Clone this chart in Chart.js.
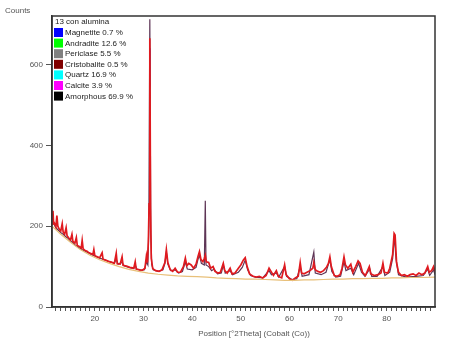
<!DOCTYPE html>
<html lang="en">
<head>
<meta charset="UTF-8">
<title>13 con alumina</title>
<script src="https://cdn.jsdelivr.net/npm/chart.js@4.4.1/dist/chart.umd.min.js"></script>
<style>body{margin:0;background:#fff}</style>
</head>
<body>
<canvas id="xrd" width="449" height="346"></canvas>

<!-- data -->
<script>
const obsX = [11.2,11.4,11.5,11.8,12.0,12.2,12.4,12.7,13.0,13.3,13.5,13.8,14.1,14.3,14.7,15.0,15.3,15.5,15.9,16.2,16.4,16.8,17.2,17.4,17.6,18.0,18.4,18.8,19.2,19.6,19.8,20.0,20.5,21.0,21.5,21.7,22.2,22.8,23.4,24.0,24.4,24.6,25.2,25.6,25.8,26.5,27.2,28.0,28.3,28.5,29.2,29.8,30.3,30.6,30.8,31.0,31.15,31.3,31.45,31.6,31.9,32.5,33.2,33.8,34.4,34.7,35.0,35.5,36.0,36.5,37.0,37.6,38.2,38.6,38.9,39.3,39.8,40.3,40.8,41.2,41.5,41.8,42.2,42.5,42.7,42.9,43.4,43.8,44.3,44.7,45.3,45.8,46.4,46.7,47.2,47.8,48.2,48.8,49.5,50.0,50.5,50.9,51.3,51.8,52.5,53.2,53.8,54.5,55.2,55.8,56.2,56.7,57.3,57.7,58.4,59.0,59.3,60.0,60.6,61.2,61.8,62.2,62.5,63.0,63.6,64.2,64.8,65.0,65.3,65.8,66.4,67.0,67.6,68.0,68.3,68.6,69.2,69.8,70.4,70.8,71.2,71.5,72.0,72.6,73.0,73.6,74.1,74.5,75.0,75.6,76.4,76.7,77.4,78.2,78.8,79.2,79.5,80.2,80.6,81.2,81.5,81.7,82.0,82.4,83.0,83.6,84.2,84.8,85.4,86.0,86.6,87.2,87.8,88.4,88.7,89.2,89.6,89.9];
const obsY = [205,238,212,205,198,226,200,192,188,206,185,180,196,176,170,166,180,162,158,172,152,150,146,165,144,140,138,134,132,130,142,127,124,122,134,118,116,113,111,108,133,107,106,124,103,101,98,96,112,94,92,91,96,126,110,160,255,665,245,120,95,90,88,92,110,142,110,92,88,96,86,86,100,121,102,108,104,96,106,125,137,118,112,120,128,112,110,96,100,88,84,86,108,90,84,96,82,84,96,104,116,122,100,82,76,74,76,72,78,96,88,78,90,76,72,104,80,70,66,72,76,110,84,82,86,90,96,110,92,88,86,90,98,108,124,100,78,76,80,96,124,104,96,106,86,100,114,108,86,78,100,82,78,80,84,108,86,84,96,130,182,178,110,86,78,80,76,80,82,78,84,80,84,100,86,90,100,88];

const calcX = [11.2,11.5,12.0,12.5,13.0,13.5,14.0,14.5,15.0,15.5,16.0,16.5,17.0,17.5,18.0,18.5,19.0,19.5,20.0,21.0,22.0,23.0,24.0,24.4,24.8,25.6,26.0,27.0,28.0,28.3,28.6,29.5,30.2,30.6,30.9,31.1,31.3,31.5,31.7,32.0,33.0,34.0,34.4,34.7,35.0,35.6,36.5,37.2,38.0,38.6,39.0,40.0,40.8,41.2,41.5,41.9,42.5,42.7,42.85,43.4,44.0,44.5,45.2,46.0,46.4,46.8,47.8,48.3,49.5,50.3,50.9,51.4,52.0,53.0,54.5,55.8,56.3,57.3,57.8,59.0,59.4,60.5,61.5,62.2,62.6,64.0,65.0,65.3,66.5,67.5,68.3,68.7,69.5,70.5,71.2,71.6,72.6,73.2,74.2,74.8,75.5,76.5,76.9,78.0,79.2,79.6,80.6,81.2,81.55,81.9,82.4,84.0,86.0,87.5,88.4,88.8,89.6,89.9];
const calcY = [203,208,196,190,184,180,174,170,164,158,153,149,145,141,138,135,132,129,126,121,117,112,108,118,106,110,102,98,95,104,94,91,92,112,104,200,712,180,105,92,88,92,108,136,106,90,92,84,88,112,94,92,98,118,128,108,104,263,104,100,90,94,82,84,104,84,90,80,86,98,116,92,78,74,72,90,80,84,74,100,76,68,70,100,76,80,136,84,80,86,118,88,74,76,112,90,96,80,108,86,76,94,76,76,100,78,86,120,176,118,80,74,76,78,94,78,92,80];

const bgX = [11.2,13,15,17,19,21,23,25,27,29,31,33,35,37,39,41,43,45,47,49,51,53,55,57,59,61,63,65,67,69,71,73,75,77,79,81,83,85,87,89.9];
const bgY = [200,180,160,142,128,117,108,100,93,88,84,81,79,77,76,75,74,72,71,70,69,69,68,67,66,66,67,67,68,69,69,70,70,71,71,72,72,73,73,74];

// blue stretch visible on the main reflection
const magX = [31.3,31.3];
const magY = [545,640];

const phaseNames = ['Magnetite','Andradite','Periclase','Cristobalite','Quartz','Calcite','Amorphous'];
const phasePct = ['0.7','12.6','5.5','0.5','16.9','3.9','69.9'];
const phaseColors = ['#0000ff','#00ff00','#808080','#800000','#00ffff','#ff00ff','#000000'];
const sampleName = '13 con alumina';

const xMajor = [20,30,40,50,60,70,80];
const yTicks = [0,200,400,600];
</script>

<script>
    function pts(xs, ys){
        return xs.map((x, i) => ({x: x, y: ys[i]}));
    }

    const FONT = 'Liberation Sans, Arial, sans-serif';

    // frame, legend box and loose labels
    const decor = {
        id: 'decor',
        afterDatasetsDraw(chart){
            const ctx = chart.ctx;
            const a = chart.chartArea;
            ctx.save();
            ctx.strokeStyle = '#333';
            ctx.lineWidth = 1.5;
            ctx.strokeRect(a.left, a.top, a.right - a.left, a.bottom - a.top);

            // phase legend
            ctx.font = '8px ' + FONT;
            ctx.textBaseline = 'middle';
            ctx.fillStyle = '#222';
            ctx.fillText(sampleName, a.left + 3, a.top + 5.5);
            phaseNames.forEach((n, i) => {
                const y = a.top + 12 + i * 10.6;
                ctx.fillStyle = phaseColors[i];
                ctx.fillRect(a.left + 2, y, 9, 9);
                ctx.fillStyle = '#222';
                ctx.fillText(n + ' ' + phasePct[i] + ' %', a.left + 13, y + 4.8);
            });

            ctx.fillStyle = '#555';
            ctx.font = '8px ' + FONT;
            ctx.textAlign = 'left';
            ctx.fillText('Counts', 5, 11);
            ctx.textAlign = 'center';
            ctx.fillText('Position [°2Theta] (Cobalt (Co))', 254, 334);
            ctx.restore();
        }
    };

    const ctx = document.getElementById('xrd').getContext('2d');
    const chart = new Chart(ctx, {
        type: 'scatter',
        data: {
            datasets: [
                { label: 'Background', data: pts(bgX, bgY), borderColor: '#e8c07a', borderWidth: 1.2 },
                { label: 'Observed', data: pts(obsX, obsY), borderColor: '#e01a1f', borderWidth: 1.7 },
                { label: 'Calculated', data: pts(calcX, calcY), borderColor: '#5e3556', borderWidth: 1.2 },
                { label: 'Magnetite', data: pts(magX, magY), borderColor: '#1c1cf0', borderWidth: 1.5 }
            ]
        },
        options: {
            responsive: false,
            animation: false,
            showLine: true,
            elements: { point: { radius: 0 }, line: { tension: 0 } },
            layout: { padding: { top: 16, right: 14, left: 0, bottom: 0 } },
            plugins: { legend: { display: false }, tooltip: { enabled: false } },
            scales: {
                x: {
                    type: 'linear',
                    min: 11.2,
                    max: 89.9,
                    afterFit(s){ s.height = 39; },
                    afterBuildTicks(s){
                        const t = [];
                        for (let v = 12; v <= 89; v++) t.push({value: v});
                        s.ticks = t;
                    },
                    grid: { drawOnChartArea: false, tickLength: 4, color: '#555', tickColor: '#555' },
                    border: { color: '#333', width: 1.5 },
                    ticks: {
                        autoSkip: false, maxRotation: 0, padding: 3,
                        color: '#555', font: { family: FONT, size: 8 },
                        callback: v => xMajor.includes(v) ? String(v) : ''
                    }
                },
                y: {
                    min: 0,
                    max: 720,
                    afterFit(s){ s.width = 52; },
                    afterBuildTicks(s){ s.ticks = yTicks.map(v => ({value: v})); },
                    grid: { drawOnChartArea: false, tickLength: 6, color: '#555', tickColor: '#555' },
                    border: { color: '#333', width: 1.5 },
                    ticks: { padding: 3, color: '#555', font: { family: FONT, size: 8 } }
                }
            }
        },
        plugins: [decor]
    });
</script>
</body>
</html>
